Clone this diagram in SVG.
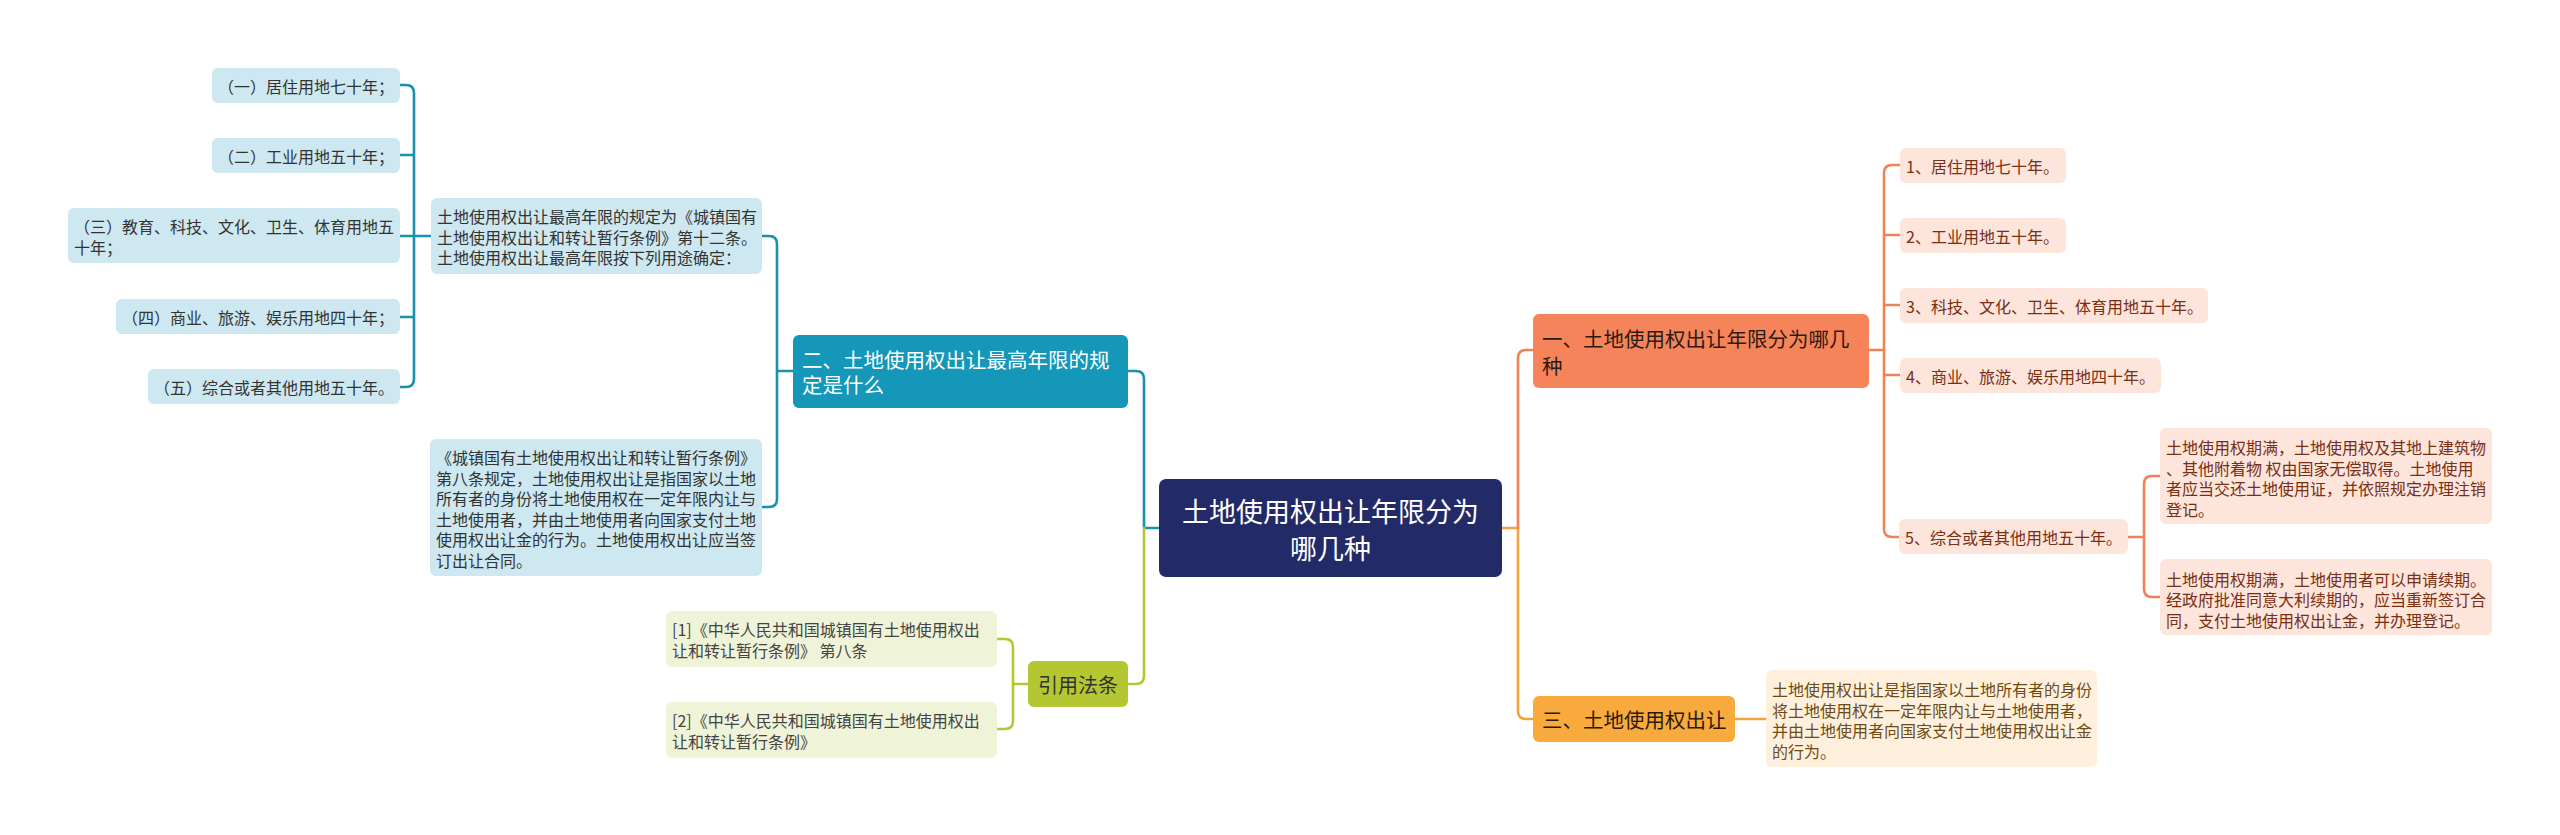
<svg xmlns="http://www.w3.org/2000/svg" width="2560" height="835" viewBox="0 0 2560 835">
<style>
text{font-family:"Noto Sans CJK SC","Noto Sans",sans-serif;dominant-baseline:central}
.s{font-size:16px}
.m{font-size:20.5px}
.c{fill:none;stroke-width:2.6;stroke-linecap:round;stroke-linejoin:round}
.cb{stroke:#1a90ad}.cg{stroke:#b4c733}.co{stroke:#ef8256}.cy{stroke:#f4a33c}
.lb{fill:#cde8f0}.tb{fill:#333}
.lg{fill:#eff3d8}.tg{fill:#444}
.lo{fill:#fde5dc}.to{fill:#7a2e12}
.ly{fill:#fef0dc}.ty{fill:#6e4a14}
</style>
<rect width="2560" height="835" fill="#fff"/>
<g id="connectors">
<path class="c cb" d="M400,85 H406 Q414,85 414,93 V379 Q414,387 406,387 H400 M400,155 H414 M400,236 H431 M400,317 H414"/>
<path class="c cb" d="M762,236 H769 Q777,236 777,244 V499 Q777,507 769,507 H762 M777,371 H793"/>
<path class="c cb" d="M1128,371 H1136 Q1144,371 1144,379 V528 H1159"/>
<path class="c cg" d="M1128,684 H1136 Q1144,684 1144,676 V528"/>
<path class="c cg" d="M997,639 H1005 Q1013,639 1013,647 V721 Q1013,729 1005,729 H997 M1013,684 H1028"/>
<path class="c cy" d="M1502,528 H1518 V711 Q1518,719 1526,719 H1533 M1735,719 H1766"/>
<path class="c co" d="M1518,528 V358 Q1518,350 1526,350 H1533"/>
<path class="c co" d="M1869,350 H1884 M1900,165 H1892 Q1884,165 1884,173 V529 Q1884,537 1892,537 H1899 M1884,235 H1900 M1884,305 H1900 M1884,375 H1900"/>
<path class="c co" d="M2128,537 H2144 M2160,476 H2152 Q2144,476 2144,484 V589 Q2144,597 2152,597 H2160"/>
</g>
<g id="root">
<rect x="1159" y="479" width="343" height="98" rx="7" fill="#222a68"/>
<text x="1330.5" y="510" font-size="27" fill="#fff" text-anchor="middle">土地使用权出让年限分为</text>
<text x="1330.5" y="547" font-size="27" fill="#fff" text-anchor="middle">哪几种</text>
</g>
<g id="n2">
<rect x="793" y="335" width="335" height="73" rx="6" fill="#1497b8"/>
<text class="m" x="802" y="359" fill="#fff">二、土地使用权出让最高年限的规</text>
<text class="m" x="802" y="384" fill="#fff">定是什么</text>
</g>
<g id="n2a">
<rect x="431" y="198" width="331" height="76" rx="6" class="lb"/>
<text class="s tb" x="437" y="216">土地使用权出让最高年限的规定为《城镇国有</text>
<text class="s tb" x="437" y="236.5">土地使用权出让和转让暂行条例》第十二条。</text>
<text class="s tb" x="437" y="257">土地使用权出让最高年限按下列用途确定：</text>
</g>
<g id="l1"><rect x="212" y="68" width="188" height="35" rx="6" class="lb"/><text class="s tb" x="218" y="85.5">（一）居住用地七十年；</text></g>
<g id="l2"><rect x="212" y="138" width="188" height="35" rx="6" class="lb"/><text class="s tb" x="218" y="155.5">（二）工业用地五十年；</text></g>
<g id="l3"><rect x="68" y="208" width="332" height="55" rx="6" class="lb"/><text class="s tb" x="74" y="226">（三）教育、科技、文化、卫生、体育用地五</text><text class="s tb" x="74" y="246.5">十年；</text></g>
<g id="l4"><rect x="116" y="299" width="284" height="35" rx="6" class="lb"/><text class="s tb" x="122" y="316.5">（四）商业、旅游、娱乐用地四十年；</text></g>
<g id="l5"><rect x="148" y="369" width="252" height="35" rx="6" class="lb"/><text class="s tb" x="154" y="386.5">（五）综合或者其他用地五十年。</text></g>
<g id="n2b">
<rect x="430" y="439" width="332" height="137" rx="6" class="lb"/>
<text class="s tb" x="436" y="457">《城镇国有土地使用权出让和转让暂行条例》</text>
<text class="s tb" x="436" y="477.5">第八条规定，土地使用权出让是指国家以土地</text>
<text class="s tb" x="436" y="498">所有者的身份将土地使用权在一定年限内让与</text>
<text class="s tb" x="436" y="518.5">土地使用者，并由土地使用者向国家支付土地</text>
<text class="s tb" x="436" y="539">使用权出让金的行为。土地使用权出让应当签</text>
<text class="s tb" x="436" y="559.5">订出让合同。</text>
</g>
<g id="ref">
<rect x="1028" y="661" width="100" height="46" rx="6" fill="#b4c733"/>
<text x="1078" y="684" font-size="20" fill="#333" text-anchor="middle">引用法条</text>
</g>
<g id="ref1"><rect x="666" y="611" width="331" height="56" rx="6" class="lg"/><text class="s tg" x="672" y="629">[1]《中华人民共和国城镇国有土地使用权出</text><text class="s tg" x="672" y="649.5">让和转让暂行条例》 第八条</text></g>
<g id="ref2"><rect x="666" y="702" width="331" height="56" rx="6" class="lg"/><text class="s tg" x="672" y="720">[2]《中华人民共和国城镇国有土地使用权出</text><text class="s tg" x="672" y="740.5">让和转让暂行条例》</text></g>
<g id="n1">
<rect x="1533" y="314" width="336" height="74" rx="6" fill="#f6845a"/>
<text class="m" x="1542" y="338" fill="#2d1a12">一、土地使用权出让年限分为哪几</text>
<text class="m" x="1542" y="365" fill="#2d1a12">种</text>
</g>
<g id="r1"><rect x="1900" y="148" width="166" height="35" rx="6" class="lo"/><text class="s to" x="1906" y="165.5">1、居住用地七十年。</text></g>
<g id="r2"><rect x="1900" y="218" width="166" height="35" rx="6" class="lo"/><text class="s to" x="1906" y="235.5">2、工业用地五十年。</text></g>
<g id="r3"><rect x="1900" y="288" width="308" height="35" rx="6" class="lo"/><text class="s to" x="1906" y="305.5">3、科技、文化、卫生、体育用地五十年。</text></g>
<g id="r4"><rect x="1900" y="358" width="261" height="35" rx="6" class="lo"/><text class="s to" x="1906" y="375.5">4、商业、旅游、娱乐用地四十年。</text></g>
<g id="r5"><rect x="1899" y="519" width="229" height="35" rx="6" class="lo"/><text class="s to" x="1905" y="536.5">5、综合或者其他用地五十年。</text></g>
<g id="r5a">
<rect x="2160" y="428" width="332" height="96" rx="6" class="lo"/>
<text class="s to" x="2166" y="447">土地使用权期满，土地使用权及其地上建筑物</text>
<text class="s to" x="2166" y="467.5">、其他附着物 权由国家无偿取得。土地使用</text>
<text class="s to" x="2166" y="488">者应当交还土地使用证，并依照规定办理注销</text>
<text class="s to" x="2166" y="508.5">登记。</text>
</g>
<g id="r5b">
<rect x="2160" y="559" width="332" height="76" rx="6" class="lo"/>
<text class="s to" x="2166" y="578.5">土地使用权期满，土地使用者可以申请续期。</text>
<text class="s to" x="2166" y="599">经政府批准同意大利续期的，应当重新签订合</text>
<text class="s to" x="2166" y="619.5">同，支付土地使用权出让金，并办理登记。</text>
</g>
<g id="n3">
<rect x="1533" y="696" width="202" height="46" rx="6" fill="#f9aa3c"/>
<text class="m" x="1542" y="719" fill="#2d1a0a">三、土地使用权出让</text>
</g>
<g id="n3a">
<rect x="1766" y="670" width="331" height="97" rx="6" class="ly"/>
<text class="s ty" x="1772" y="689">土地使用权出让是指国家以土地所有者的身份</text>
<text class="s ty" x="1772" y="709.5">将土地使用权在一定年限内让与土地使用者，</text>
<text class="s ty" x="1772" y="730">并由土地使用者向国家支付土地使用权出让金</text>
<text class="s ty" x="1772" y="750.5">的行为。</text>
</g>
</svg>
